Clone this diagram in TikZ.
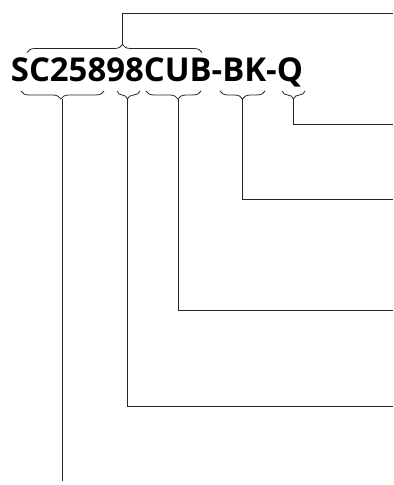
\documentclass[tikz,border=0pt]{standalone}
\usepackage{fontspec}
\setmainfont{Open Sans}
\usetikzlibrary{decorations.pathreplacing}

\begin{document}
\begin{tikzpicture}[x=1bp, y=-1bp, line width=0.8bp, draw=black!85,
    brc/.style={decorate, decoration={brace, amplitude=8bp, aspect=#1}}]
    \useasboundingbox (0,0) rectangle (393,485);
    % Part number
    \node[anchor=base west, inner sep=0pt, font=\fontsize{33}{39}\selectfont\bfseries] (code) at (10.5,82) {SC25898CUB-BK-Q};

    % Braces
    \draw[brc=0.546] (27,52.5) -- (202,52.5);
    \draw[brc=0.52] (104,91) -- (21,91);
    \draw[brc=0.55] (140,91) -- (117,91);
    \draw[brc=0.42] (201,91) -- (146,91);
    \draw[brc=0.5] (265,91) -- (220,91);
    \draw[brc=0.5] (305,91) -- (282,91);

    % Tips and ends
    \coordinate (tipAll) at (122.5,44.5);
    \coordinate (tipQ) at (293.5,99);
    \coordinate (tipBK) at (242.5,99);
    \coordinate (tipCUB) at (178,99);
    \coordinate (tipEight) at (127.5,99);
    \coordinate (tipSC) at (62.5,99);
    \coordinate (endAll) at (393,13);
    \coordinate (endQ) at (393,124);
    \coordinate (endBK) at (393,199);
    \coordinate (endCUB) at (393,310);
    \coordinate (endEight) at (393,406);
    \coordinate (endSC) at (62.5,481);

    % Connections
    \draw (tipAll) |- (endAll);
    \draw (tipQ) |- (endQ);
    \draw (tipBK) |- (endBK);
    \draw (tipCUB) |- (endCUB);
    \draw (tipEight) |- (endEight);
    \draw (tipSC) -- (endSC);
\end{tikzpicture}
\end{document}
